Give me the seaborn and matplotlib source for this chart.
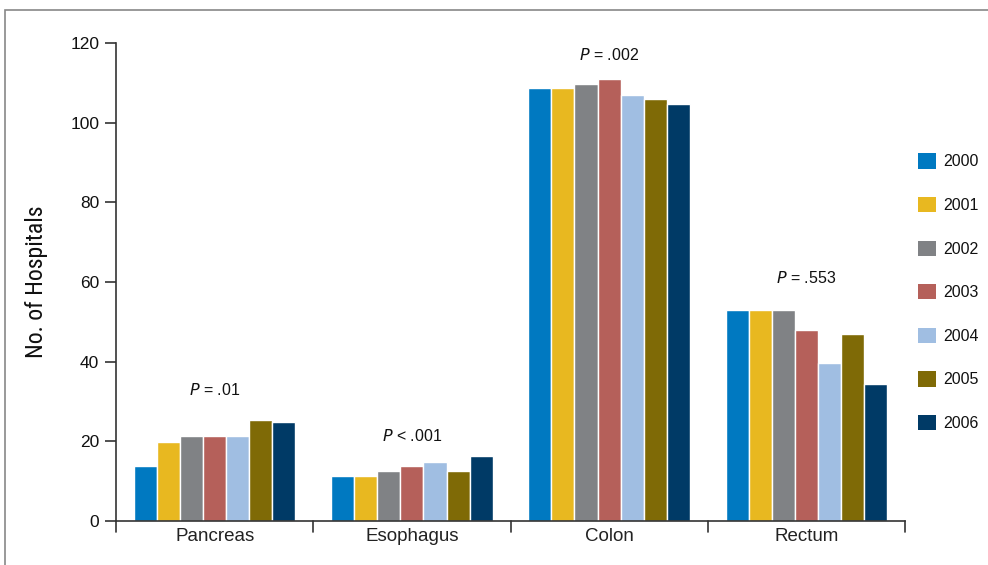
import matplotlib
matplotlib.use("Agg")
import matplotlib.pyplot as plt
import seaborn as sns
import pandas as pd
from matplotlib.patches import Rectangle, Patch
from matplotlib import font_manager

categories = ["Pancreas", "Esophagus", "Colon", "Rectum"]
years = ["2000", "2001", "2002", "2003", "2004", "2005", "2006"]
v2000 = [13.7, 11.3, 108.7, 53]
v2001 = [19.9, 11.3, 108.7, 53]
v2002 = [21.4, 12.5, 109.8, 53]
v2003 = [21.4, 13.7, 111, 48]
v2004 = [21.4, 14.8, 107, 39.6]
v2005 = [25.4, 12.5, 106, 47]
v2006 = [24.8, 16.3, 104.8, 34.5]
p_labels = ["= .01", "< .001", "= .002", "= .553"]
p_label_y = [32.8, 21.3, 117, 61]
yticks = [0, 20, 40, 60, 80, 100, 120]

colors = ["#0079C1", "#E8B820", "#808285", "#B5605A", "#A0BEE2", "#7F6A06", "#003A66"]

series = [v2000, v2001, v2002, v2003, v2004, v2005, v2006]
rows = []
for yr, vals in zip(years, series):
    for c, v in zip(categories, vals):
        rows.append({"Site": c, "Year": yr, "Hospitals": v})
df = pd.DataFrame(rows)

sns.set_theme(style="white")
plt.rcParams["font.family"] = ["Liberation Sans", "DejaVu Sans"]

# look for a condensed sans font for the y label
cond = None
for f in font_manager.fontManager.ttflist:
    fn = f.fname.lower()
    if ("narrow" in fn or "condensed" in fn) and "bold" not in fn and "oblique" not in fn \
            and "italic" not in fn and "serif" not in fn and "mono" not in fn:
        cond = f.fname
        if "liberation" in fn:
            break

fig = plt.figure(figsize=(9.88, 5.65), dpi=100)
ax = fig.add_axes([116/988, 1-521/565, (905-116)/988, (521-43)/565])

sns.barplot(data=df, x="Site", y="Hospitals", hue="Year", order=categories,
            hue_order=years, palette=colors, width=0.82, edgecolor="white",
            linewidth=1.0, saturation=1, ax=ax, legend=False, errorbar=None)

ax.set_ylim(0, 120)
ax.set_xlim(-0.5, 3.5)
ax.set_yticks(yticks)
ax.set_yticklabels([str(t) for t in yticks], fontsize=12.5, color="#111111")
ax.set_xticks(range(len(categories)))
ax.set_xticklabels(categories, fontsize=13.5, color="#222222")
ax.tick_params(axis="x", length=0, pad=5)
ax.tick_params(axis="y", length=8, width=1.2, color="#333333", direction="out", pad=4, left=True)
for b in [-0.5, 0.5, 1.5, 2.5, 3.5]:
    ax.plot([b, b], [0, -0.022], transform=ax.get_xaxis_transform(), color="#333333",
            lw=1.2, clip_on=False)
ax.set_xlabel("")
if cond is not None:
    yl = ax.set_ylabel("No. of Hospitals", fontproperties=font_manager.FontProperties(fname=cond, size=19),
                       color="#111111")
else:
    yl = ax.set_ylabel("No. of Hospitals", fontsize=15.5, color="#111111")
ax.yaxis.set_label_coords(-0.086, 0.5)
# fit label length to ~152 px
fig.canvas.draw()
r = fig.canvas.get_renderer()
h = yl.get_window_extent(r).height
if h > 0:
    yl.set_fontsize(yl.get_fontsize() * 152.0 / h)

for s in ["top", "right"]:
    ax.spines[s].set_visible(False)
for s in ["left", "bottom"]:
    ax.spines[s].set_color("#333333")
    ax.spines[s].set_linewidth(1.2)

for i, (lab, yy) in enumerate(zip(p_labels, p_label_y)):
    ax.text(i, yy, r"$\it{P}$ " + lab, ha="center", va="center", fontsize=11.5, color="#111111")

handles = [Patch(facecolor=c, edgecolor="none") for c in colors]
leg = fig.legend(handles, years, loc="upper left", bbox_to_anchor=(912/988, 1-147/565),
                 frameon=False, fontsize=11.5, handlelength=1.1, handleheight=1.1,
                 labelspacing=1.72, handletextpad=0.45, borderaxespad=0)
for t in leg.get_texts():
    t.set_color("#111111")

fig.patches.append(Rectangle((5/988, -0.1), 1.2, 1-10/565+0.1, transform=fig.transFigure,
                             fill=False, edgecolor="#888888", lw=1.2))

fig.savefig("out.png", dpi=100)
